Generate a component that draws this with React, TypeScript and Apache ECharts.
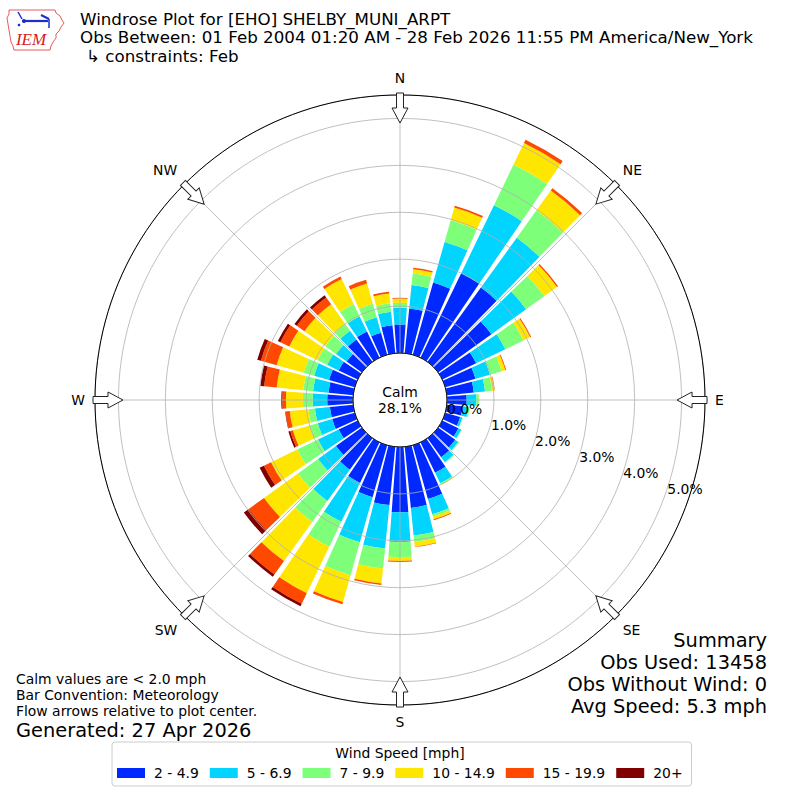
import React, { useEffect, useRef } from "react";
import * as echarts from "echarts";

// ---- data (percent of observations), directions 0..350 step 10 (meteorological "from")
const directions = [0, 10, 20, 30, 40, 50, 60, 70, 80, 90, 100, 110, 120, 130, 140, 150, 160, 170,
  180, 190, 200, 210, 220, 230, 240, 250, 260, 270, 280, 290, 300, 310, 320, 330, 340, 350];

const speedBins = ["2 - 4.9", "5 - 6.9", "7 - 9.9", "10 - 14.9", "15 - 19.9", "20+"];
const binColors = ["#0029ff", "#00d4ff", "#7dff7a", "#ffe600", "#ff4800", "#800000"];

const bin2to5 = [0.61, 0.96, 1.60, 2.00, 1.95, 1.40, 0.80, 0.67, 0.58, 0.42, 0.34, 0.33, 0.38, 0.45, 0.50, 0.72, 1.19, 1.31,
  1.39, 1.25, 1.15, 0.96, 0.83, 0.68, 0.45, 0.50, 0.50, 0.55, 0.53, 0.57, 0.45, 0.40, 0.59, 0.62, 0.49, 0.60];
const bin5to7 = [0.36, 0.50, 0.90, 1.61, 1.31, 0.91, 0.69, 0.32, 0.24, 0.21, 0.12, 0.05, 0.07, 0.08, 0.13, 0.25, 0.34, 0.59,
  0.64, 0.93, 1.00, 0.92, 0.82, 0.47, 0.49, 0.32, 0.32, 0.31, 0.33, 0.33, 0.27, 0.28, 0.23, 0.36, 0.34, 0.29];
const bin7to10 = [0.10, 0.25, 0.48, 0.96, 0.72, 0.48, 0.43, 0.26, 0.15, 0.05, 0.03, 0.01, 0.01, 0.02, 0.02, 0.03, 0.05, 0.14,
  0.32, 0.43, 0.73, 0.59, 0.55, 0.53, 0.49, 0.18, 0.14, 0.21, 0.21, 0.23, 0.23, 0.28, 0.18, 0.29, 0.30, 0.18];
const bin10to15 = [0.09, 0.09, 0.28, 0.51, 0.52, 0.33, 0.16, 0.08, 0.05, 0.01, 0, 0, 0, 0, 0, 0.01, 0.06, 0.10,
  0.08, 0.32, 0.59, 1.10, 1.03, 0.89, 0.62, 0.37, 0.40, 0.36, 0.57, 0.60, 0.67, 0.55, 0.51, 0.59, 0.45, 0.21];
const bin15to20 = [0.02, 0.03, 0.04, 0.08, 0.06, 0.03, 0.02, 0.02, 0.01, 0, 0, 0, 0, 0, 0, 0, 0.02, 0.01,
  0.02, 0.03, 0.05, 0.25, 0.35, 0.41, 0.17, 0.06, 0.09, 0.08, 0.27, 0.35, 0.21, 0.20, 0.18, 0.06, 0.08, 0.04];
const bin20plus = [0, 0, 0, 0, 0, 0, 0, 0, 0, 0, 0, 0, 0, 0, 0, 0, 0, 0,
  0, 0, 0, 0.06, 0.06, 0.12, 0.10, 0.04, 0.01, 0.02, 0.08, 0.08, 0.06, 0.06, 0.06, 0, 0, 0];

const binValues = [bin2to5, bin5to7, bin7to10, bin10to15, bin15to20, bin20plus];

const compassAngles = [0, 45, 90, 135, 180, 225, 270, 315];
const compassNames = ["N", "NE", "E", "SE", "S", "SW", "W", "NW"];
const radialMax = 5.5;

const titleLines = [
  "Windrose Plot for [EHO] SHELBY_MUNI_ARPT",
  "Obs Between: 01 Feb 2004 01:20 AM - 28 Feb 2026 11:55 PM America/New_York",
  "↳ constraints: Feb",
];
const noteLines = ["Calm values are < 2.0 mph", "Bar Convention: Meteorology", "Flow arrows relative to plot center."];
const generatedText = "Generated: 27 Apr 2026";
const summaryLines = ["Summary", "Obs Used: 13458", "Obs Without Wind: 0", "Avg Speed: 5.3 mph"];
const calmText = "Calm\n28.1%";

// ---- layout constants
const CX = 400;
const CY = 400;
const R_IN = 47;
const R_OUT = 305;
const FONT = "DejaVu Sans";

echarts.graphic.registerShape(
  "windArrow",
  echarts.graphic.extendPath("M0 0 L8 -15 L3.5 -15 L3.5 -30 L-3.5 -30 L-3.5 -15 L-8 -15 Z", {})
);

function txt(text: string, x: number, y: number, size: number, align: string, extra: any = {}) {
  return {
    type: "text",
    x,
    y,
    z: 100,
    silent: true,
    style: {
      text,
      fill: "#000",
      fontSize: size,
      fontFamily: FONT,
      align,
      textAlign: align,
      verticalAlign: "middle",
      textVerticalAlign: "middle",
      ...extra,
    },
  };
}

function buildOption() {
  const graphics: any[] = [];
  // title
  graphics.push(txt(titleLines[0], 80, 18.5, 16.7, "left"));
  graphics.push(txt(titleLines[1], 80, 37, 16.7, "left"));
  graphics.push(txt(titleLines[2], 86, 55.5, 16.7, "left"));
  // notes
  noteLines.forEach((t, i) => graphics.push(txt(t, 16, 679 + i * 16.2, 13.9, "left", { lineHeight: 14 })));
  graphics.push(txt(generatedText, 16, 730, 19.4, "left", { lineHeight: 19 }));
  summaryLines.forEach((t, i) => graphics.push(txt(t, 767, 640 + i * 22, 19.4, "right")));
  // calm text
  graphics.push({
    type: "text", x: CX, y: CY, z: 100, silent: true,
    style: { text: calmText, fill: "#000", fontSize: 13.9, fontFamily: FONT, align: "center", textAlign: "center",
      verticalAlign: "middle", textVerticalAlign: "middle", lineHeight: 16 },
  });
  // legend title
  graphics.push(txt("Wind Speed [mph]", 400, 753, 13.9, "center"));
  // flow arrows
  compassAngles.forEach((a) => {
    const rad = (a * Math.PI) / 180;
    const rTip = 277;
    graphics.push({
      type: "windArrow",
      x: CX + rTip * Math.sin(rad),
      y: CY - rTip * Math.cos(rad),
      rotation: -rad,
      z: 110,
      silent: true,
      style: { fill: "#ffffff", stroke: "#222222", lineWidth: 1 },
    });
  });
  // IEM logo
  graphics.push({
    type: "polygon", z: 100, silent: true,
    shape: {
      points: [[9, 10], [55, 10], [56, 13], [60, 16], [62, 20], [64, 23], [61, 27], [59, 31], [56, 34], [56, 38],
        [53, 42], [51, 46], [50, 50], [14, 50], [13, 46], [11, 42], [10, 36], [9, 30], [8, 24], [7, 18], [9, 14]],
    },
    style: { fill: "#ffffff", stroke: "#e03030", lineWidth: 0.8 },
  });
  graphics.push({ type: "line", z: 101, silent: true, shape: { x1: 22, y1: 21, x2: 48, y2: 21 }, style: { stroke: "#1a2fd0", lineWidth: 2.2 } });
  graphics.push({ type: "line", z: 101, silent: true, shape: { x1: 18, y1: 12, x2: 22, y2: 19 }, style: { stroke: "#1a2fd0", lineWidth: 1.5 } });
  graphics.push({ type: "line", z: 101, silent: true, shape: { x1: 41, y1: 15, x2: 49, y2: 19 }, style: { stroke: "#1a2fd0", lineWidth: 2 } });
  graphics.push({ type: "line", z: 101, silent: true, shape: { x1: 49, y1: 19, x2: 49, y2: 28 }, style: { stroke: "#1a2fd0", lineWidth: 1.5 } });
  graphics.push({ type: "circle", z: 101, silent: true, shape: { cx: 24, cy: 21, r: 2 }, style: { fill: "#1a2fd0" } });
  graphics.push({ type: "circle", z: 101, silent: true, shape: { cx: 19, cy: 25, r: 1.3 }, style: { fill: "#1a2fd0" } });
  graphics.push({
    type: "text", x: 31, y: 39, z: 101, silent: true,
    style: { text: "IEM", fill: "#d42020", fontSize: 17, fontFamily: "Liberation Serif", fontStyle: "italic",
      align: "center", textAlign: "center", verticalAlign: "middle", textVerticalAlign: "middle" },
  });

  const hidden = { axisLine: { show: false }, axisTick: { show: false }, axisLabel: { show: false }, splitLine: { show: false } };
  const grid = { color: "#b0b0b0", width: 0.8 };

  return {
    animation: false,
    backgroundColor: "#ffffff",
    textStyle: { fontFamily: FONT },
    polar: [
      { center: [CX, CY], radius: [R_IN, R_OUT] },
      { center: [CX, CY], radius: [R_IN, R_OUT] },
      { center: [CX, CY], radius: [R_IN, R_OUT] },
    ],
    angleAxis: [
      { polarIndex: 0, type: "category", data: directions.map((d) => d + "°"), startAngle: 95, clockwise: true, boundaryGap: true, ...hidden },
      { polarIndex: 1, type: "value", min: 0, max: 360, startAngle: -20, clockwise: true, ...hidden },
      {
        polarIndex: 2, type: "value", min: 0, max: 360, interval: 45, startAngle: 90, clockwise: true, z: 5,
        axisLine: { show: true, lineStyle: { color: "#000000", width: 1 } },
        axisTick: { show: false },
        axisLabel: {
          show: true, margin: 10, color: "#000", fontSize: 13.9, fontFamily: FONT,
          formatter: (v: number) => {
            const i = compassAngles.indexOf(Math.round(v));
            return i >= 0 ? compassNames[i] : "";
          },
        },
        splitLine: { show: true, lineStyle: grid },
      },
    ],
    radiusAxis: [
      { polarIndex: 0, type: "value", min: 0, max: radialMax, ...hidden },
      {
        polarIndex: 1, type: "value", min: 0, max: radialMax, interval: 1, z: 5,
        axisLine: { show: false }, axisTick: { show: false },
        axisLabel: {
          show: true, margin: 8, color: "#000", fontSize: 13.9, fontFamily: FONT,
          formatter: (v: number) => (v > 5.01 ? "" : v.toFixed(1) + "%"),
        },
        splitLine: { show: true, lineStyle: grid },
      },
      { polarIndex: 2, type: "value", min: 0, max: radialMax, ...hidden },
    ],
    legend: {
      data: speedBins,
      left: 112,
      top: 742,
      orient: "horizontal",
      icon: "rect",
      itemWidth: 28,
      itemHeight: 10,
      itemGap: 11,
      padding: [24, 9, 6, 5],
      borderColor: "#cccccc",
      borderWidth: 1,
      borderRadius: 3,
      backgroundColor: "#ffffff",
      selectedMode: false,
      textStyle: { fontSize: 13.9, fontFamily: FONT, color: "#000", padding: [0, 0, 0, 4] },
    },
    series: speedBins.map((name, i) => ({
      type: "bar",
      name,
      coordinateSystem: "polar",
      polarIndex: 0,
      stack: "wind",
      data: binValues[i],
      barCategoryGap: "15%",
      itemStyle: { color: binColors[i] },
      silent: true,
      z: 2,
    })),
    graphic: { elements: graphics },
  };
}

export default function App() {
  const ref = useRef<HTMLDivElement>(null);
  useEffect(() => {
    if (!ref.current) return;
    const chart = echarts.init(ref.current, null, { renderer: "svg" });
    chart.setOption(buildOption() as any);
    return () => chart.dispose();
  }, []);
  return (
    <div
      ref={ref}
      style={{ position: "fixed", left: 0, top: 0, width: 800, height: 800, background: "#fff" }}
    />
  );
}
